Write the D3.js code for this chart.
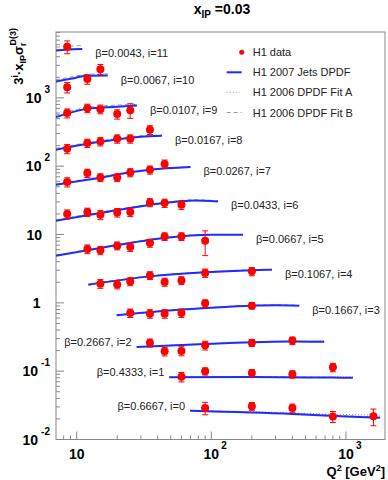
<!DOCTYPE html>
<html>
<head>
<meta charset="utf-8">
<script src="https://cdnjs.cloudflare.com/ajax/libs/d3/7.8.5/d3.min.js"></script>
<style>
  body { margin: 0; background: #ffffff; }
  svg { font-family: 'Liberation Sans', Arial, Helvetica, sans-serif; }
</style>
</head>
<body>
<div id="vis"></div>
<script>
var w = 388;
var h = 480;

// Q2 bins of the measurement
var q2Bins = [8.5, 12, 15, 20, 25, 35, 45, 60, 90, 200, 400, 800, 1600];

// beta for each i (index = i)
var betas = ['0.6667', '0.4333', '0.2667', '0.1667', '0.1067', '0.0667',
             '0.0433', '0.0267', '0.0167', '0.0107', '0.0067', '0.0043'];

// 3^i * xIP * sigma_r, one row per i, aligned with q2Bins (null = no point)
var n = null;
var h1Data = [
  [n, n, n, n, n, n, n, n, 0.0290, 0.0307, 0.0290, 0.0217, 0.0219],
  [n, n, n, n, n, n, n, 0.0826, 0.0997, 0.0944, 0.0902, 0.114, n],
  [n, n, n, n, n, 0.260, 0.195, 0.198, 0.239, 0.260, 0.280, n, n],
  [n, n, n, n, 0.711, 0.695, 0.695, 0.711, 0.984, 0.910, n, n, n],
  [n, n, 1.91, 1.86, 2.06, 2.52, 2.02, 2.13, 2.74, 2.89, n, n, n],
  [n, 6.14, 5.86, 6.86, 6.56, 7.51, 9.38, 9.38, 8.11, n, n, n, n],
  [19.9, 21.3, 19.5, 21.0, 21.3, 29.5, 28.9, 27.3, n, n, n, n, n],
  [58.6, 79.3, 68.4, 68.4, 80.9, 88.5, 108, n, n, n, n, n, n],
  [180, 218, 230, 252, 252, 341, n, n, n, n, n, n, n],
  [598, 707, 684, 578, 661, n, n, n, n, n, n, n, n],
  [1430, 1880, 2630, n, n, n, n, n, n, n, n, n, n],
  [5620, n, n, n, n, n, n, n, n, n, n, n, n]
];

// total errors, same layout
var h1Err = [
  [n, n, n, n, n, n, n, n, 0.006, 0.004, 0.004, 0.004, 0.006],
  [n, n, n, n, n, n, n, 0.013, 0.012, 0.011, 0.011, 0.016, n],
  [n, n, n, n, n, 0.035, 0.028, 0.030, 0.035, 0.030, 0.035, n, n],
  [n, n, n, n, 0.10, 0.10, 0.10, 0.10, 0.12, 0.10, n, n, n],
  [n, n, 0.28, 0.26, 0.28, 0.33, 0.27, 0.28, 0.38, 0.40, n, n, n],
  [n, 0.9, 0.8, 0.9, 0.9, 1.0, 1.2, 1.2, 3.2, n, n, n, n],
  [3, 3, 3, 3, 3, 4, 4, 4, n, n, n, n, n],
  [9, 11, 9, 9, 11, 12, 15, n, n, n, n, n, n],
  [28, 30, 32, 35, 35, 50, n, n, n, n, n, n, n],
  [90, 100, 100, 90, 160, n, n, n, n, n, n, n, n],
  [250, 300, 450, n, n, n, n, n, n, n, n, n, n],
  [1200, n, n, n, n, n, n, n, n, n, n, n, n]
];

// curve nodes (Q2) and model values per i
var curveQ2 = [
  [69.5, 400, 1000, 1790],
  [48.7, 200, 800, 1125],
  [27.9, 90, 400, 690],
  [19.8, 60, 200, 300, 450],
  [12.2, 35, 90, 200, 282],
  [7, 15, 45, 100, 172],
  [7, 15, 45, 75, 112],
  [7, 12, 35, 70],
  [7, 15, 30, 43],
  [7, 12, 20, 28],
  [7, 9, 12, 17],
  [7, 8.5, 11]
];
var jetsFit = [
  [0.0263, 0.0236, 0.0217, 0.0208],
  [0.0815, 0.0820, 0.0805, 0.0801],
  [0.226, 0.249, 0.271, 0.270],
  [0.656, 0.796, 0.910, 0.925, 0.910],
  [1.845, 2.44, 2.81, 3.01, 3.06],
  [4.90, 6.35, 8.89, 9.90, 9.93],
  [15.9, 20.6, 28.9, 31.5, 30.5],
  [53.5, 63.3, 88.5, 97.0],
  [174, 227, 269, 278],
  [522, 690, 739, 771],
  [1730, 1897, 2099, 2118],
  [4920, 5105, 5200]
];
var fitA = [
  [0.0268, 0.0245, 0.0232, 0.0228],
  [0.0820, 0.0830, 0.0825, 0.0830],
  [0.228, 0.252, 0.278, 0.280],
  [0.660, 0.800, 0.915, 0.930, 0.915],
  [1.85, 2.45, 2.82, 3.02, 3.07],
  [4.92, 6.38, 8.93, 9.95, 9.98],
  [16.0, 20.7, 29.1, 31.7, 30.7],
  [54.0, 64.0, 89.5, 98.0],
  [176, 230, 272, 281],
  [530, 700, 750, 782],
  [1760, 1930, 2130, 2150],
  [5000, 5180, 5280]
];
var fitB = [
  [0.0266, 0.0240, 0.0222, 0.0213],
  [0.0818, 0.0825, 0.0812, 0.0808],
  [0.227, 0.250, 0.273, 0.272],
  [0.662, 0.803, 0.918, 0.932, 0.918],
  [1.87, 2.47, 2.84, 3.04, 3.09],
  [4.98, 6.45, 9.02, 10.0, 10.0],
  [16.4, 21.2, 29.6, 32.2, 31.2],
  [55.0, 65.0, 90.0, 98.5],
  [182, 236, 278, 285],
  [560, 725, 785, 805],
  [1840, 2010, 2220, 2250],
  [5510, 5700, 5820]
];

var xMajor = [10, 100, 1000];
var xMajorExp = ['', '2', '3'];
var yMajor = [0.01, 0.1, 1, 10, 100, 1000];
var yMajorExp = ['-2', '-1', '', '', '2', '3'];
var yMajorBase = ['10', '10', '1', '10', '10', '10'];

var legendLabels = ['H1 data', 'H1 2007 Jets DPDF', 'H1 2006 DPDF Fit A', 'H1 2006 DPDF Fit B'];

var svg = d3.select('#vis')
  .append('svg')
    .attr('width', w)
    .attr('height', h);

var x = d3.scaleLog()
  .domain([7.02, 1950])
  .range([56, 385]);

var y = d3.scaleLog()
  .domain([0.01, 9200])
  .range([439.5, 32]);

var axisColor = '#888888';

// clip for the curves
svg.append('clipPath')
  .attr('id', 'frame-clip')
  .append('rect')
    .attr('x', x.range()[0])
    .attr('y', y.range()[1])
    .attr('width', x.range()[1] - x.range()[0])
    .attr('height', y.range()[0] - y.range()[1]);

// frame
svg.append('rect')
  .attr('x', x.range()[0])
  .attr('y', y.range()[1])
  .attr('width', x.range()[1] - x.range()[0])
  .attr('height', y.range()[0] - y.range()[1])
  .style('fill', 'none')
  .style('stroke', axisColor)
  .style('stroke-width', 1);

// log ticks (inside the frame)
var xTickVals = [];
var yTickVals = [];
for (var d = 0; d <= 3; d++) {
  for (var m = 1; m <= 9; m++) {
    var v = m * Math.pow(10, d);
    if (v >= x.domain()[0] && v <= x.domain()[1]) xTickVals.push({v: v, major: m === 1});
  }
}
for (var d = -2; d <= 3; d++) {
  for (var m = 1; m <= 9; m++) {
    var v = +(m * Math.pow(10, d)).toPrecision(3);
    if (v >= y.domain()[0] && v <= y.domain()[1]) yTickVals.push({v: v, major: m === 1});
  }
}

svg.selectAll('line.xtick')
  .data(xTickVals)
  .enter()
  .append('line')
    .attr('class', 'xtick')
    .attr('x1', function(d) { return x(d.v); })
    .attr('x2', function(d) { return x(d.v); })
    .attr('y1', y.range()[0])
    .attr('y2', function(d) { return y.range()[0] - (d.major ? 8 : 4); })
    .style('stroke', axisColor);

svg.selectAll('line.ytick')
  .data(yTickVals)
  .enter()
  .append('line')
    .attr('class', 'ytick')
    .attr('y1', function(d) { return y(d.v); })
    .attr('y2', function(d) { return y(d.v); })
    .attr('x1', x.range()[0])
    .attr('x2', function(d) { return x.range()[0] + (d.major ? 8 : 4); })
    .style('stroke', axisColor);

// x tick labels
svg.selectAll('text.xlab')
  .data(xMajor)
  .enter()
  .append('text')
    .attr('class', 'xlab')
    .attr('x', function(d) { return x(d); })
    .attr('y', 459)
    .attr('text-anchor', 'middle')
    .style('font-size', '14px')
    .style('font-weight', 'bold')
    .text('10');

svg.selectAll('text.xexp')
  .data(xMajor)
  .enter()
  .append('text')
    .attr('class', 'xexp')
    .attr('x', function(d) { return x(d) + 10; })
    .attr('y', 448.5)
    .style('font-size', '10px')
    .style('font-weight', 'bold')
    .text(function(d, i) { return xMajorExp[i]; });

// y tick labels
var ylab = svg.selectAll('text.ylab')
  .data(yMajor)
  .enter()
  .append('text')
    .attr('class', 'ylab')
    .attr('x', function(d, i) { return yMajorExp[i] ? 50 : (yMajorBase[i] === '1' ? 40.5 : 42); })
    .attr('y', function(d) { return y(d) + 5; })
    .attr('text-anchor', 'end')
    .style('font-size', '14px')
    .style('font-weight', 'bold');

ylab.append('tspan')
  .text(function(d, i) { return yMajorBase[i]; });

ylab.append('tspan')
  .attr('dx', 3)
  .attr('dy', -10)
  .style('font-size', '10px')
  .text(function(d, i) { return yMajorExp[i]; });

// axis titles
var xt = svg.append('text')
  .attr('x', 385)
  .attr('y', 476)
  .attr('text-anchor', 'end')
  .style('font-size', '13px')
  .style('font-weight', 'bold');
xt.append('tspan').text('Q');
xt.append('tspan').attr('dy', -5).style('font-size', '9px').text('2');
xt.append('tspan').attr('dy', 5).text(' [GeV');
xt.append('tspan').attr('dy', -5).style('font-size', '9px').text('2');
xt.append('tspan').attr('dy', 5).text(']');

var yt = svg.append('text')
  .attr('transform', 'translate(23,28) rotate(-90)')
  .attr('text-anchor', 'end')
  .style('font-size', '13px')
  .style('font-weight', 'bold');
yt.append('tspan').text('3');
yt.append('tspan').attr('dy', -5).style('font-size', '9px').text('i');
yt.append('tspan').attr('dy', 5).text('\u00b7x');
yt.append('tspan').attr('dy', 3).style('font-size', '9px').text('IP');
yt.append('tspan').attr('dy', -3).text('\u03c3');
yt.append('tspan').attr('dy', 3).style('font-size', '9px').text('r');
yt.append('tspan').attr('dx', -3).attr('dy', -10).style('font-size', '9px').text('D(3)');

// title
var title = svg.append('text')
  .attr('x', 222)
  .attr('y', 14)
  .attr('text-anchor', 'middle')
  .style('font-size', '14px')
  .style('font-weight', 'bold');
title.append('tspan').text('x');
title.append('tspan').attr('dy', 4).style('font-size', '10px').text('IP');
title.append('tspan').attr('dy', -4).text(' =0.03');

// curves
var line = d3.line()
  .x(function(d) { return x(d[0]); })
  .y(function(d) { return y(d[1]); })
  .curve(d3.curveMonotoneX);

function rowPoints(vals, i) {
  return curveQ2[i].map(function(q, k) { return [q, vals[i][k]]; });
}

var curves = svg.append('g').attr('clip-path', 'url(#frame-clip)');

curves.selectAll('path.fitb')
  .data(betas)
  .enter()
  .append('path')
    .attr('class', 'fitb')
    .attr('d', function(d, i) { return line(rowPoints(fitB, i)); })
    .style('fill', 'none')
    .style('stroke', '#999999')
    .style('stroke-width', 1)
    .style('stroke-dasharray', '4,3');

curves.selectAll('path.fita')
  .data(betas)
  .enter()
  .append('path')
    .attr('class', 'fita')
    .attr('d', function(d, i) { return line(rowPoints(fitA, i)); })
    .style('fill', 'none')
    .style('stroke', '#999999')
    .style('stroke-width', 1)
    .style('stroke-dasharray', '1,2');

curves.selectAll('path.jets')
  .data(betas)
  .enter()
  .append('path')
    .attr('class', 'jets')
    .attr('d', function(d, i) { return line(rowPoints(jetsFit, i)); })
    .style('fill', 'none')
    .style('stroke', '#1f2bff')
    .style('stroke-width', 2);

// beta labels
svg.selectAll('text.blab')
  .data(betas)
  .enter()
  .append('text')
    .attr('class', 'blab')
    .attr('x', function(d, i) {
      var q = curveQ2[i];
      return i >= 3 ? x(q[q.length - 1]) + 13 : x(q[0]) - 5;
    })
    .attr('y', function(d, i) {
      var v = jetsFit[i];
      return i >= 3 ? y(v[v.length - 1]) + 8 : y(v[0]) - 1;
    })
    .attr('text-anchor', function(d, i) { return i >= 3 ? 'start' : 'end'; })
    .style('font-size', '11px')
    .style('fill', '#222222')
    .text(function(d, i) { return '\u03b2=' + d + ', i=' + i; });

// data points with error bars
var points = [];
h1Data.forEach(function(row, i) {
  row.forEach(function(v, k) {
    if (v !== null) points.push({q: q2Bins[k], v: v, e: h1Err[i][k]});
  });
});

var red = '#ff0000';

svg.selectAll('line.ebar')
  .data(points)
  .enter()
  .append('line')
    .attr('class', 'ebar')
    .attr('x1', function(d) { return x(d.q); })
    .attr('x2', function(d) { return x(d.q); })
    .attr('y1', function(d) { return y(d.v + d.e); })
    .attr('y2', function(d) { return y(d.v - d.e); })
    .style('stroke', red)
    .style('stroke-width', 1);

svg.selectAll('line.ecapt')
  .data(points)
  .enter()
  .append('line')
    .attr('class', 'ecapt')
    .attr('x1', function(d) { return x(d.q) - 3; })
    .attr('x2', function(d) { return x(d.q) + 3; })
    .attr('y1', function(d) { return y(d.v + d.e); })
    .attr('y2', function(d) { return y(d.v + d.e); })
    .style('stroke', red);

svg.selectAll('line.ecapb')
  .data(points)
  .enter()
  .append('line')
    .attr('class', 'ecapb')
    .attr('x1', function(d) { return x(d.q) - 3; })
    .attr('x2', function(d) { return x(d.q) + 3; })
    .attr('y1', function(d) { return y(d.v - d.e); })
    .attr('y2', function(d) { return y(d.v - d.e); })
    .style('stroke', red);

svg.selectAll('circle.pt')
  .data(points)
  .enter()
  .append('circle')
    .attr('class', 'pt')
    .attr('cx', function(d) { return x(d.q); })
    .attr('cy', function(d) { return y(d.v); })
    .attr('r', 4)
    .style('fill', red);

// legend
var legend = svg.append('g');
var legY = [52.3, 72.3, 92.3, 112.5];

legend.selectAll('text')
  .data(legendLabels)
  .enter()
  .append('text')
    .attr('x', 252.7)
    .attr('y', function(d, i) { return legY[i] + 4; })
    .style('font-size', '11px')
    .style('fill', '#222222')
    .text(function(d) { return d; });

legend.append('circle')
  .attr('cx', 241.7)
  .attr('cy', legY[0])
  .attr('r', 2.5)
  .style('fill', red);

legend.append('line')
  .attr('x1', 226.7).attr('x2', 241.7)
  .attr('y1', legY[1]).attr('y2', legY[1])
  .style('stroke', '#1f2bff')
  .style('stroke-width', 2);

legend.append('line')
  .attr('x1', 226.7).attr('x2', 241.7)
  .attr('y1', legY[2]).attr('y2', legY[2])
  .style('stroke', '#999999')
  .style('stroke-dasharray', '1,2');

legend.append('line')
  .attr('x1', 226.7).attr('x2', 241.7)
  .attr('y1', legY[3]).attr('y2', legY[3])
  .style('stroke', '#999999')
  .style('stroke-dasharray', '4,3');
</script>
</body>
</html>
